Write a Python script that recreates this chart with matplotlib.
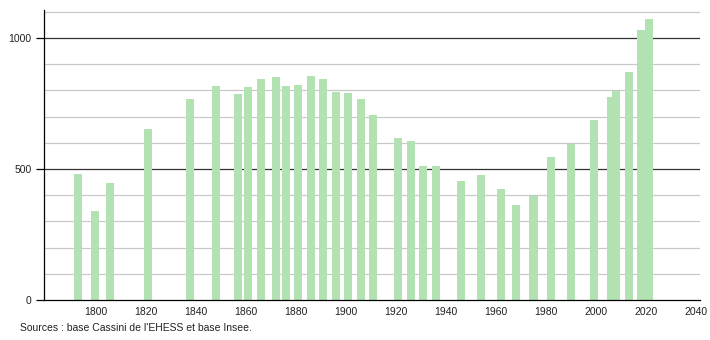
import matplotlib
matplotlib.use("Agg")
import matplotlib.pyplot as plt

years = [1793, 1800, 1806, 1821, 1838, 1848, 1857, 1861, 1866, 1872, 1876, 1881,
         1886, 1891, 1896, 1901, 1906, 1911, 1921, 1926, 1931, 1936, 1946, 1954,
         1962, 1968, 1975, 1982, 1990, 1999, 2006, 2008, 2013, 2018, 2021]
population = [481, 338, 445, 653, 766, 817, 787, 812, 842, 850, 817, 821,
              856, 844, 795, 791, 766, 706, 617, 607, 511, 511, 454, 477,
              424, 363, 398, 545, 594, 687, 774, 799, 871, 1031, 1071]
xticks = list(range(1800, 2041, 20))
yticks_major = [0, 500, 1000]
source_text = "Sources : base Cassini de l'EHESS et base Insee."

plt.rcParams['font.family'] = ['Liberation Sans', 'DejaVu Sans']

fig = plt.figure(figsize=(7.1, 3.4), dpi=100)
ax = fig.add_axes([44/710, 1 - 300/340, (700-44)/710, (300-10)/340])

ax.set_xlim(1779.5, 2041.5)
ax.set_ylim(0, 1107)

# grid lines
for v in range(100, 1101, 100):
    if v % 500 == 0:
        ax.axhline(v, color='#333333', lw=0.9, zorder=1)
    else:
        ax.axhline(v, color='#c8c8c8', lw=0.9, zorder=1)

ax.bar(years, population, width=3.2, color='#b2e2b2', zorder=2, linewidth=0)

for s in ['top', 'right']:
    ax.spines[s].set_visible(False)
ax.spines['left'].set_color('black')
ax.spines['bottom'].set_color('black')
ax.spines['left'].set_linewidth(0.9)
ax.spines['bottom'].set_linewidth(0.9)

ax.set_yticks(yticks_major)
ax.set_yticklabels([str(v) for v in yticks_major])
ax.set_xticks(xticks)
ax.set_xticklabels([str(v) for v in xticks])
ax.tick_params(axis='y', length=6, width=0.9, labelsize=7.5, pad=3, colors='black')
ax.tick_params(axis='x', length=0, labelsize=7.5, pad=5, colors='black')
for lab in ax.get_xticklabels() + ax.get_yticklabels():
    lab.set_color('#222222')

fig.text(20/710, 1 - 328/340, source_text, fontsize=7.5, color='#222222',
         ha='left', va='center')

fig.savefig('out.png', dpi=100)
